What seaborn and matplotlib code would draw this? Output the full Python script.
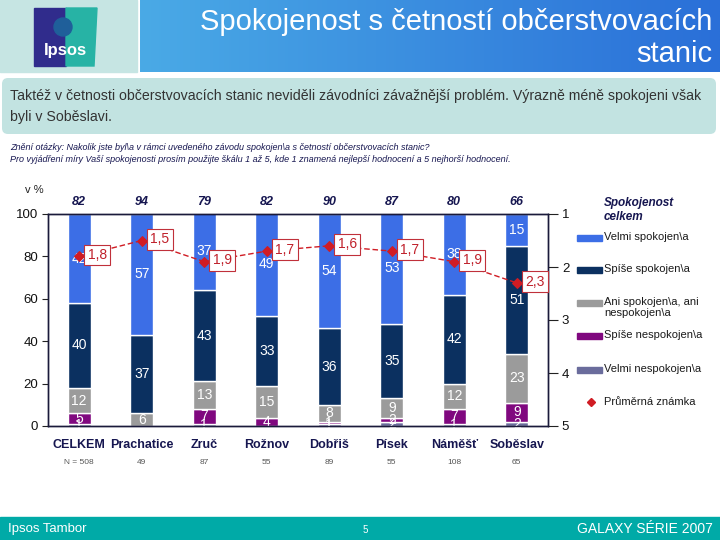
import numpy as np
import seaborn as sns
import matplotlib.pyplot as plt
from matplotlib.patches import Rectangle, FancyBboxPatch, Polygon
from matplotlib.colors import LinearSegmentedColormap

# ---------------------------------------------------------------- data
cats = ['CELKEM', 'Prachatice', 'Zruč', 'Rožnov', 'Dobřiš', 'Písek', 'Náměšť', 'Soběslav']
n_resp = ['N = 508', '49', '87', '55', '89', '55', '108', '65']
top_share = [82, 94, 79, 82, 90, 87, 80, 66]

velmi_spok = [42, 57, 37, 49, 54, 53, 38, 15]
spise_spok = [40, 37, 43, 33, 36, 35, 42, 51]
ani = [12, 6, 13, 15, 8, 9, 12, 23]
spise_nesp = [5, 0, 7, 4, 1, 2, 7, 9]
velmi_nesp = [1, 0, 1, 0, 1, 2, 1, 2]

mean_score = [1.8, 1.5, 1.9, 1.7, 1.6, 1.7, 1.9, 2.3]

legend_names = ['Velmi spokojen\\a', 'Spíše spokojen\\a', 'Ani spokojen\\a, ani\nnespokojen\\a',
                'Spíše nespokojen\\a', 'Velmi nespokojen\\a']

# ---------------------------------------------------------------- style
sns.set_style('white')
plt.rcParams['font.family'] = ['Liberation Sans', 'DejaVu Sans']

c_vs = '#3c6ee6'
c_ss = '#0b3060'
c_ani = '#9b9b9b'
c_sn = '#80087f'
c_vn = '#6a6c9c'
c_red = '#d01c24'
navy = '#161650'

fig = plt.figure(figsize=(7.2, 5.4), dpi=100)

# background layer in pixel coordinates
bg = fig.add_axes([0, 0, 1, 1])
bg.set_xlim(0, 720)
bg.set_ylim(540, 0)
bg.axis('off')

bg.add_patch(Rectangle((0, 0), 137, 72, color='#c6e5e3'))
grad = np.linspace(0, 1, 256).reshape(1, -1)
cmap = LinearSegmentedColormap.from_list('hdr', ['#4aaae6', '#2a6fd8'])
bg.imshow(grad, extent=(140, 720, 72, 0), aspect='auto', cmap=cmap)
bg.set_xlim(0, 720)
bg.set_ylim(540, 0)

# logo
bg.add_patch(Rectangle((34, 8), 32, 58, color='#302c8c'))
bg.add_patch(Polygon([(66, 8), (97, 8), (94, 66), (66, 66)], color='#27b3a5'))
bg.add_patch(plt.Circle((63, 27), 9, color='#1f5f9a'))
bg.text(65, 50, 'Ipsos', color='white', fontsize=12, fontweight='bold', ha='center', va='center')

bg.text(712, 22, 'Spokojenost s četností občerstvovacích', color='white', fontsize=21,
        ha='right', va='center')
bg.text(712, 54, 'stanic', color='white', fontsize=21, ha='right', va='center')

bg.add_patch(FancyBboxPatch((2, 78), 714, 56, boxstyle='round,pad=0,rounding_size=6',
                            fc='#c2e3e1', ec='none'))
bg.text(10, 96, 'Taktéž v četnosti občerstvovacích stanic neviděli závodníci závažnější problém. '
        'Výrazně méně spokojeni však', fontsize=10.2, color='#333333', va='center')
bg.text(10, 117, 'byli v Soběslavi.', fontsize=10.2, color='#333333', va='center')

bg.text(10, 147, 'Znění otázky: Nakolik jste byl\\a v rámci uvedeného závodu spokojen\\a '
        's četností občerstvovacích stanic?', fontsize=6.5, style='italic', color=navy, va='center')
bg.text(10, 159, 'Pro vyjádření míry Vaší spokojenosti prosím použijte škálu 1 až 5, kde 1 znamená '
        'nejlepší hodnocení a 5 nejhorší hodnocení.', fontsize=6.5, style='italic', color=navy,
        va='center')
bg.text(25, 190, 'v %', fontsize=8, color='#222222', va='center')

# footer
bg.add_patch(Rectangle((0, 517), 720, 23, color='#00aaa7'))
bg.text(8, 529, 'Ipsos Tambor', color='white', fontsize=9.5, va='center')
bg.text(365, 530, '5', color='white', fontsize=7, va='center', ha='center')
bg.text(713, 529, 'GALAXY SÉRIE 2007', color='white', fontsize=10, va='center', ha='right')

# legend
bg.text(604, 203, 'Spokojenost', fontsize=8.5, fontweight='bold', style='italic', color=navy, va='center')
bg.text(604, 217, 'celkem', fontsize=8.5, fontweight='bold', style='italic', color=navy, va='center')
leg_y = [238, 270, 303, 336, 370]
for name, col, y in zip(legend_names, [c_vs, c_ss, c_ani, c_sn, c_vn], leg_y):
    bg.add_patch(Rectangle((577, y - 3), 25, 6, color=col))
    bg.text(604, y - 1 if '\n' not in name else y - 6, name, fontsize=8, color='#1a1a1a',
            va='center' if '\n' not in name else 'top', linespacing=1.1)
bg.plot([591], [402], marker='D', color=c_red, markersize=4.5)
bg.text(604, 402, 'Průměrná známka', fontsize=8, color='#1a1a1a', va='center')

# ---------------------------------------------------------------- chart
ax = fig.add_axes([48 / 720, 114 / 540, 500 / 720, 212 / 540])
ax.patch.set_alpha(0)

layers = [(velmi_nesp, c_vn), (spise_nesp, c_sn), (ani, c_ani), (spise_spok, c_ss), (velmi_spok, c_vs)]
bottom = np.zeros(len(cats))
for vals, col in layers:
    sns.barplot(x=cats, y=vals, bottom=bottom, color=col, saturation=1, width=0.37,
                errorbar=None, ax=ax)
    for i, (b, v) in enumerate(zip(bottom, vals)):
        if v > 0:
            ax.text(i, b + v / 2, str(v), color='white', fontsize=10, ha='center', va='center')
    bottom = bottom + np.array(vals)

for i, (t, n) in enumerate(zip(top_share, n_resp)):
    ax.text(i, 105.5, str(t), fontsize=9, fontweight='bold', style='italic', color=navy,
            ha='center', va='center', clip_on=False)
    ax.text(i, -17, n, fontsize=6, color='#555555', ha='center', va='center', clip_on=False)

ax.set_ylim(0, 100)
ax.set_yticks([0, 20, 40, 60, 80, 100])
ax.set_xticks(range(len(cats)), cats)
ax.set_xticks(np.arange(-0.5, len(cats), 1), minor=True)
ax.tick_params(axis='x', which='major', length=0, pad=9, labelsize=9, labelcolor=navy)
for lab in ax.get_xticklabels():
    lab.set_fontweight('bold')
ax.tick_params(axis='x', which='minor', length=5, width=0.8, direction='out', color='#222222')
ax.tick_params(axis='y', length=4, width=0.8, direction='out', labelsize=9.5, pad=3,
               color='#222222', labelcolor='#111111', left=True)
ax.set_xlabel('')
ax.set_ylabel('')
for sp in ax.spines.values():
    sp.set_color('#1a1a3a')
    sp.set_linewidth(1)

ax2 = ax.twinx()
sns.lineplot(x=np.arange(len(cats)), y=mean_score, ax=ax2, color=c_red, marker='D',
             markersize=5, markeredgecolor=c_red, linestyle=(0, (4, 2)), linewidth=1)
for i, v in enumerate(mean_score):
    ax2.annotate(f'{v:.1f}'.replace('.', ','), xy=(i, v), xytext=(6, 1), textcoords='offset points',
                 ha='left', va='center', fontsize=10, color='#c0202a', zorder=5,
                 bbox=dict(boxstyle='square,pad=0.25', fc='white', ec='#c0303a', lw=0.8))
ax2.set_ylim(5, 1)
ax2.set_yticks([1, 2, 3, 4, 5])
ax2.tick_params(axis='y', length=7, width=0.8, direction='out', labelsize=9.5, pad=3,
                color='#222222', labelcolor='#111111', right=True)
ax2.set_ylabel('')
for sp in ax2.spines.values():
    sp.set_color('#1a1a3a')
    sp.set_linewidth(1)
ax.set_xlim(-0.5, len(cats) - 0.5)

fig.savefig('out.png', dpi=100)
